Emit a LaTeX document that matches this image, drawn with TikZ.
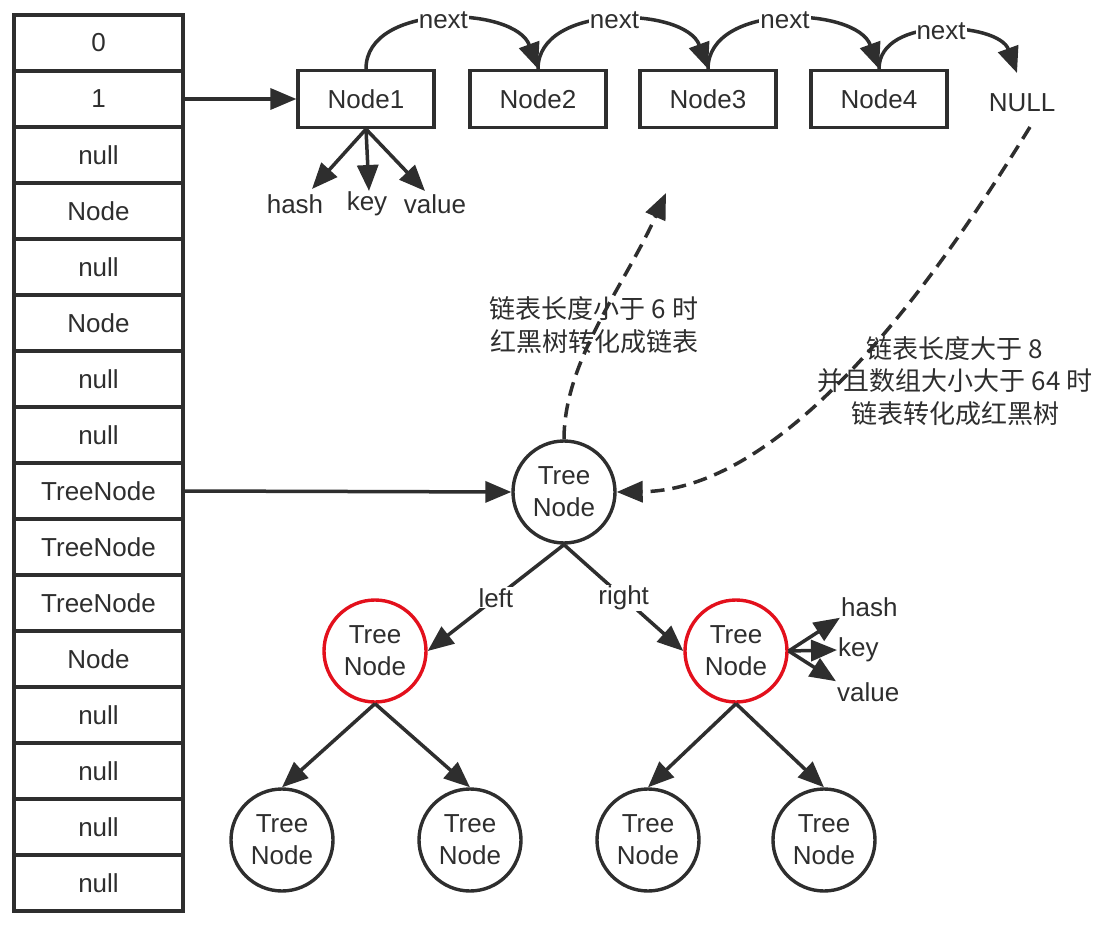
\documentclass[tikz,border=0pt]{standalone}
\usepackage{fontspec}
\setmainfont{Liberation Sans}
\newfontfamily\cjk{Noto Sans CJK SC}
\usetikzlibrary{arrows.meta}
\definecolor{ink}{HTML}{2E2E2E}
\definecolor{redc}{HTML}{E3101C}
\begin{document}
\begin{tikzpicture}[x=1pt,y=-1pt,
 lw/.style={line width=3.2pt},
 every node/.style={font=\fontsize{26}{32}\selectfont, text=ink},
 cell/.style={draw=ink, lw, minimum width=169pt, minimum height=56pt, inner sep=0pt},
 lbox/.style={draw=ink, lw, minimum width=136pt, minimum height=57pt, inner sep=0pt},
 tnode/.style={circle, draw=ink, line width=3.4pt, minimum size=102pt, inner sep=0pt, align=center},
 rnode/.style={tnode, draw=redc},
 arr/.style={draw=ink, line width=3.5pt, -{Triangle[length=26pt,width=21pt]}},
 darr/.style={arr, dash pattern=on 14pt off 8pt},
 lab/.style={inner sep=1pt},
 nextlab/.style={fill=white, inner sep=1pt},
 cjklab/.style={align=center, font=\cjk\fontsize{26}{32.5}\selectfont},
]
\useasboundingbox (0,0) rectangle (1104,928);
\fill[white] (0,0) rectangle (1104,928);
% array
\foreach \t [count=\i from 0] in {0,1,null,Node,null,Node,null,null,TreeNode,TreeNode,TreeNode,Node,null,null,null,null}
  \node[cell] (c\i) at (98.5,{43+56*\i}) {\t};
% linked list
\node[lbox] (n1) at (366,99) {Node1};
\node[lbox] (n2) at (538,99) {Node2};
\node[lbox] (n3) at (708,99) {Node3};
\node[lbox] (n4) at (879,99) {Node4};
\node (nul) at (1022,103) {NULL};
\coordinate (nulltip) at (1017,73);
\coordinate (nulbot) at (1030,127);
\draw[arr] (c1.east) -- (n1.west);
\draw[arr] (n1.north) to[out=90,in=110] node[nextlab]{next} (n2.north);
\draw[arr] (n2.north) to[out=90,in=110] node[nextlab]{next} (n3.north);
\draw[arr] (n3.north) to[out=90,in=110] node[nextlab]{next} (n4.north);
\draw[arr] (n4.north) to[out=90,in=110] node[nextlab]{next} (nulltip);
% node1 fields
\node[lab] (h1) at (295,204) {hash};
\node[lab] (k1) at (367,204) {key};
\node[lab] (v1) at (435,204) {value};
\coordinate (h1t) at (312,189);
\coordinate (k1t) at (369,191);
\coordinate (v1t) at (425,191);
\draw[arr] (n1.south) -- (h1t);
\draw[arr] (n1.south) -- (k1t);
\draw[arr] (n1.south) -- (v1t);
% tree
\node[tnode] (root) at (564,492) {Tree\\Node};
\node[rnode] (rl) at (375,651) {Tree\\Node};
\node[rnode] (rr) at (736,651) {Tree\\Node};
\node[tnode] (l1) at (282,840) {Tree\\Node};
\node[tnode] (l2) at (470,840) {Tree\\Node};
\node[tnode] (l3) at (648,840) {Tree\\Node};
\node[tnode] (l4) at (824,840) {Tree\\Node};
\draw[arr] (c8.east) -- (root.west);
\draw[arr] (root.south) -- node[nextlab]{left} (rl.east);
\draw[arr] (root.south) -- node[nextlab]{right} (rr.west);
\draw[arr] (rl.south) -- (l1.north);
\draw[arr] (rl.south) -- (l2.north);
\draw[arr] (rr.south) -- (l3.north);
\draw[arr] (rr.south) -- (l4.north);
% right red node fields
\node[lab, anchor=west] (h2) at (840,607) {hash};
\node[lab, anchor=west] (k2) at (837,650) {key};
\node[lab, anchor=west] (v2) at (836,692) {value};
\draw[arr] (rr.east) -- (h2.south west);
\draw[arr] (rr.east) -- (k2.west);
\draw[arr] (rr.east) -- (v2.north west);
% dashed transitions
\coordinate (uptip) at (666,193);
\draw[darr] (root.north) .. controls (564,360) and (625,285) .. (uptip);
\draw[darr] (nulbot) .. controls (960,240) and (800,490) .. (root.east);
\node[cjklab] (t1) at (594,325) {链表长度小于 6 时\\红黑树转化成链表};
\node[cjklab] (t2) at (955,381) {链表长度大于 8\\并且数组大小大于 64 时\\链表转化成红黑树};
\end{tikzpicture}
\end{document}
